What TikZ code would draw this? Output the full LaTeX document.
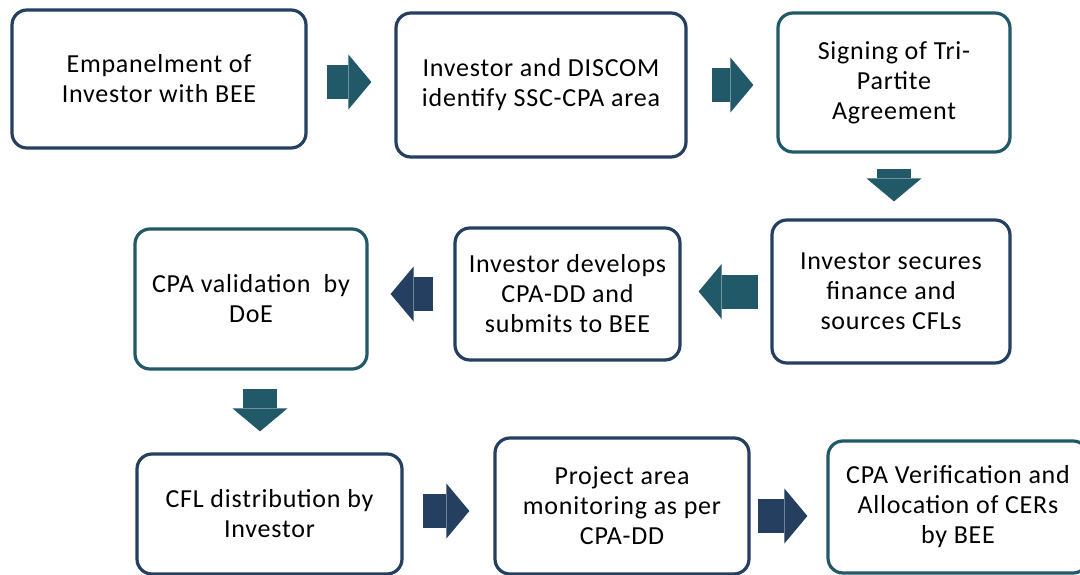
\documentclass[tikz,border=0pt]{standalone}
\usepackage{fontspec}
\setmainfont{Carlito}[LetterSpace=3]
\usetikzlibrary{arrows.meta}

\definecolor{stepnavy}{HTML}{243F60}
\definecolor{stepteal}{HTML}{215968}

\tikzset{
    stepbox/.style={draw=stepnavy, rounded corners=15pt, line width=3.2pt, inner sep=0pt,
                    align=center, font=\fontsize{26}{30}\selectfont},
    tealbox/.style={stepbox, draw=stepteal},
    flow/.style={line width=34pt, -{Triangle[length=23pt, width=55pt, line width=0pt]}}
}

\begin{document}
\begin{tikzpicture}[x=1pt, y=-1pt]
        \useasboundingbox (0,0) rectangle (1080,575);
        % first row, left to right
        \node[stepbox, minimum width=294pt, minimum height=138pt] (empanel) at (159,79)
            {Empanelment of\\Investor with BEE};
        \node[stepbox, minimum width=290pt, minimum height=144pt] (identify) at (541,85)
            {Investor and DISCOM\\identify SSC-CPA area};
        \node[tealbox, minimum width=232pt, minimum height=139pt] (tripartite) at (894,82.5)
            {Signing of Tri-\\Partite\\Agreement};
        % second row, right to left
        \node[stepbox, minimum width=238pt, minimum height=143pt] (finance) at (891,291.5)
            {Investor secures\\finance and\\sources CFLs};
        \node[stepbox, minimum width=225pt, minimum height=132pt] (cpadd) at (567.5,294)
            {Investor develops\\CPA-DD and\\submits to BEE};
        \node[tealbox, minimum width=232pt, minimum height=140pt] (validation) at (251,299)
            {CPA validation~ by\\DoE};
        % third row, left to right
        \node[stepbox, minimum width=265pt, minimum height=120pt] (distribution) at (269.5,514)
            {CFL distribution by\\Investor};
        \node[stepbox, minimum width=254pt, minimum height=136pt] (monitoring) at (622,506)
            {Project area\\monitoring as per\\CPA-DD};
        \node[tealbox, minimum width=260pt, minimum height=132pt] (verification) at (958,507)
            {CPA Verification and\\Allocation of CERs\\by BEE};

        % block arrows between the steps
        \draw[flow, stepteal, shorten <=19pt, shorten >=23pt]
            ([yshift=-3pt]empanel.east) -- ([yshift=-3pt]empanel.east -| identify.west);
        \draw[flow, stepteal, shorten <=24pt, shorten >=23pt]
            (identify.east) -- (identify.east -| tripartite.west);
        \draw[flow, stepteal, shorten <=15pt, shorten >=17pt]
            (tripartite.south) -- (tripartite.south |- finance.north);
        \draw[flow, stepteal, shorten <=12pt, shorten >=17pt]
            (finance.west) -- (finance.west -| cpadd.east);
        \draw[flow, stepnavy, shorten <=20pt, shorten >=22pt]
            (cpadd.west) -- (cpadd.west -| validation.east);
        \draw[flow, stepteal, shorten <=18pt, shorten >=21pt]
            ([xshift=9pt]validation.south) -- ([xshift=9pt]validation.south |- distribution.north);
        \draw[flow, stepnavy, shorten <=19pt, shorten >=24pt]
            ([yshift=3pt]distribution.east) -- ([yshift=3pt]distribution.east -| monitoring.west);
        \draw[flow, stepnavy, shorten <=7pt, shorten >=19pt]
            ([yshift=-10pt]monitoring.east) -- ([yshift=-10pt]monitoring.east -| verification.west);
    \end{tikzpicture}
\end{document}
